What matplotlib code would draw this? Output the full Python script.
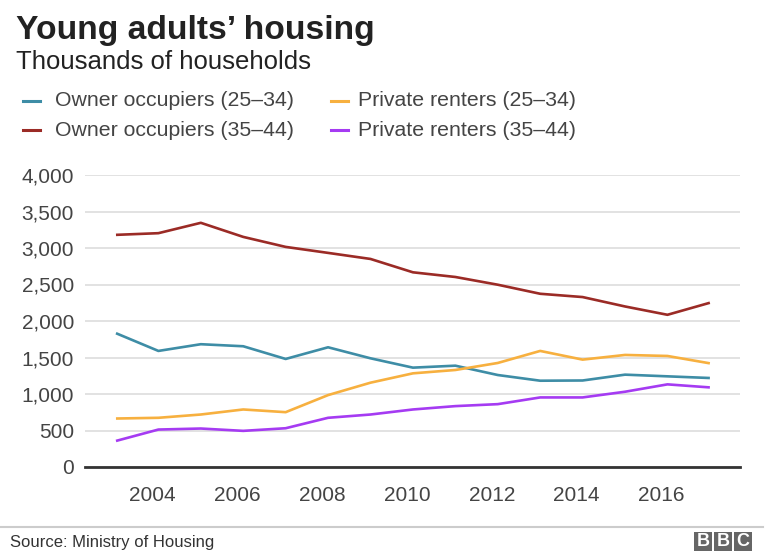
import matplotlib
matplotlib.use("Agg")
import matplotlib.pyplot as plt
import matplotlib.transforms as mtransforms
from matplotlib.patches import Rectangle
from matplotlib.lines import Line2D

years = list(range(2003, 2018))
owner_25_34 = [1833, 1590, 1682, 1654, 1480, 1640, 1489, 1361, 1388, 1260, 1182, 1185, 1265, 1242, 1219]
owner_35_44 = [3180, 3203, 3345, 3152, 3015, 2933, 2850, 2667, 2603, 2497, 2373, 2328, 2199, 2085, 2250]
private_25_34 = [664, 674, 719, 788, 751, 985, 1155, 1283, 1329, 1425, 1590, 1471, 1535, 1521, 1420]
private_35_44 = [357, 513, 527, 495, 531, 674, 719, 788, 834, 861, 953, 953, 1031, 1132, 1090]

series_labels = ["Owner occupiers (25\u201334)", "Owner occupiers (35\u201344)",
                 "Private renters (25\u201334)", "Private renters (35\u201344)"]
colors = ["#3E8DA6", "#9B2B26", "#F7B03F", "#A53BF2"]
y_ticks = [0, 500, 1000, 1500, 2000, 2500, 3000, 3500, 4000]
x_ticks = [2004, 2006, 2008, 2010, 2012, 2014, 2016]

plt.rcParams['font.family'] = ['Liberation Sans', 'DejaVu Sans']

W, H = 768, 556
fig = plt.figure(figsize=(W / 100, H / 100), dpi=100)

def fx(px):
    return px / W

def fy(py):
    return 1 - py / H

ax = fig.add_axes([fx(85), fy(467), fx(740) - fx(85), fy(175) - fy(467)])
data = [owner_25_34, owner_35_44, private_25_34, private_35_44]
for vals, c in zip(data, colors):
    ax.plot(years, vals, color=c, lw=1.9, solid_capstyle='butt', zorder=3)

ax.set_xlim(2002.27, 2017.71)
ax.set_ylim(0, 4000)
ax.set_yticks(y_ticks)
ax.set_yticklabels([f"{v:,}" for v in y_ticks])
ax.set_xticks(x_ticks)
ax.set_xticklabels([str(x) for x in x_ticks])
ax.tick_params(axis='both', length=0, labelsize=15, colors='#444444')
ax.tick_params(axis='y', pad=8)
ax.tick_params(axis='x', pad=14)
offset = mtransforms.ScaledTranslation(-6 / 100, 0, fig.dpi_scale_trans)
for lab in ax.get_xticklabels():
    lab.set_transform(lab.get_transform() + offset)
ax.grid(axis='y', color='#dddddd', lw=1.2, zorder=0)
ax.grid(axis='x', visible=False)
for s in ['top', 'right', 'left']:
    ax.spines[s].set_visible(False)
ax.spines['bottom'].set_color('#333333')
ax.spines['bottom'].set_linewidth(2.0)
ax.spines['bottom'].set_zorder(4)

# Title and subtitle
fig.text(fx(16), fy(30), "Young adults\u2019 housing", fontsize=24.2, fontweight='bold',
         color='#222222', va='center', ha='left')
fig.text(fx(16), fy(62), "Thousands of households", fontsize=18.5, color='#222222',
         va='center', ha='left')

# Legend
leg_pos = [(23, 101), (23, 130), (331, 101), (331, 130)]
text_gap = [32, 32, 27, 27]
for (lx, ly), g, lab, c in zip(leg_pos, text_gap, series_labels, colors):
    fig.add_artist(Line2D([fx(lx), fx(lx + 17)], [fy(ly), fy(ly)], color=c, lw=2.2,
                          transform=fig.transFigure))
    fig.text(fx(lx + g), fy(ly), lab, fontsize=15.3, color='#444444', va='center', ha='left')

# Footer
fig.add_artist(Line2D([0, fx(763)], [fy(527), fy(527)], color='#cccccc', lw=1.5,
                      transform=fig.transFigure))
fig.text(fx(10), fy(542), "Source: Ministry of Housing", fontsize=12, color='#333333',
         va='center', ha='left')
for i, letter in enumerate("BBC"):
    x0 = 694 + i * 20
    fig.add_artist(Rectangle((fx(x0), fy(551)), fx(18), fy(532) - fy(551),
                             transform=fig.transFigure, color='#666666', lw=0))
    fig.text(fx(x0 + 9), fy(541.5), letter, fontsize=13, fontweight='bold',
             color='white', va='center', ha='center')

fig.savefig("out.png", dpi=100)
